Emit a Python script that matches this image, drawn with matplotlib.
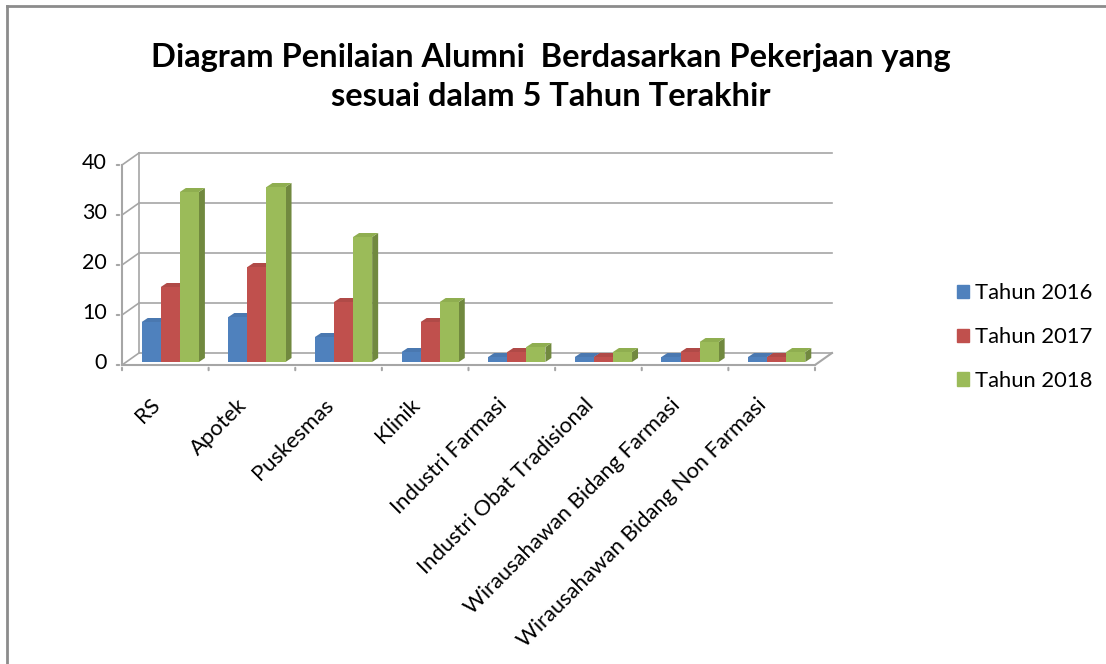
import matplotlib
matplotlib.use("Agg")
from matplotlib import pyplot as plt
from matplotlib.patches import Polygon, Patch
from matplotlib.lines import Line2D
import matplotlib.transforms as mtrans
import numpy as np

categories = ["RS", "Apotek", "Puskesmas", "Klinik", "Industri Farmasi",
              "Industri Obat Tradisional", "Wirausahawan Bidang Farmasi",
              "Wirausahawan Bidang Non Farmasi"]
series_names = ["Tahun 2016", "Tahun 2017", "Tahun 2018"]
tahun_2016 = [8, 9, 5, 2, 1, 1, 1, 1]
tahun_2017 = [15, 19, 12, 8, 2, 1, 2, 1]
tahun_2018 = [34, 35, 25, 12, 3, 2, 4, 2]
y_ticks = [0, 10, 20, 30, 40]

front_colors = ["#4F81BD", "#C0504D", "#9BBB59"]
top_colors = ["#4A78B0", "#B04A47", "#8FAE50"]
side_colors = ["#385D8A", "#8C3836", "#71893F"]

plt.rcParams["font.family"] = ["Lato", "DejaVu Sans"]

fig = plt.figure(figsize=(11.06, 6.64), dpi=100)
W, H = 1106, 664
ax = fig.add_axes([122 / W, (H - 365) / H, 693 / W, 200 / H])
ax.set_xlim(-0.5, len(categories) - 0.5)
ax.set_ylim(0, 40)
ax.axis("off")

grid_col = "#A6A6A6"
# depth of the back wall in pixels
wall = mtrans.ScaledTranslation(17 / 100, 12 / 100, fig.dpi_scale_trans)
back = ax.transData + wall
x0, x1 = ax.get_xlim()

# back wall gridlines + left wall diagonals
for v in y_ticks:
    ax.plot([x0, x1], [v, v], color=grid_col, lw=1.2, transform=back, clip_on=False)
    p_front = ax.transData.transform((x0, v))
    p_back = back.transform((x0, v))
    fig.add_artist(Line2D([p_front[0] / W, p_back[0] / W], [p_front[1] / H, p_back[1] / H],
                          color=grid_col, lw=1.2))
# back wall left edge
ax.plot([x0, x0], [0, 40], color=grid_col, lw=1.2, transform=back, clip_on=False)
# floor front edge and right edge
ax.plot([x0, x1], [0, 0], color=grid_col, lw=1.5, clip_on=False)
pf = ax.transData.transform((x1, 0))
pb = back.transform((x1, 0))
fig.add_artist(Line2D([pf[0] / W, pb[0] / W], [pf[1] / H, pb[1] / H], color=grid_col, lw=1.5))
# y axis
ax.plot([x0, x0], [0, 40], color=grid_col, lw=1.5, clip_on=False)
for v in y_ticks:
    ax.annotate("", xy=(x0, v), xytext=(-8, 0), textcoords="offset pixels",
                arrowprops=dict(arrowstyle="-", color=grid_col, lw=1.5))
    ax.annotate(str(v), xy=(x0, v), xytext=(-15, 2), textcoords="offset pixels",
                ha="right", va="center", fontsize=15.5)
# x ticks at category boundaries
for b in np.arange(x0, x1 + 0.01, 1.0):
    ax.annotate("", xy=(b, 0), xytext=(0, -8), textcoords="offset pixels",
                arrowprops=dict(arrowstyle="-", color=grid_col, lw=1.5))

# bars (pseudo 3D)
bar_w = 0.22
bar_shift = mtrans.ScaledTranslation(5 / 100, 3 / 100, fig.dpi_scale_trans)
bar_tr = ax.transData + bar_shift
ddx = 6 / 86.6
ddy = 4 / 5.0
x = np.arange(len(categories))
for i, vals in enumerate([tahun_2016, tahun_2017, tahun_2018]):
    xs = x + (i - 1) * bar_w
    for xi, v in zip(xs, vals):
        l, r = xi - bar_w / 2, xi + bar_w / 2
        ax.add_patch(Polygon([(r, 0), (r + ddx, ddy), (r + ddx, v + ddy), (r, v)],
                             closed=True, fc=side_colors[i], ec="none",
                             transform=bar_tr, clip_on=False, zorder=3 + i))
        ax.add_patch(Polygon([(l, v), (r, v), (r + ddx, v + ddy), (l + ddx, v + ddy)],
                             closed=True, fc=top_colors[i], ec="none",
                             transform=bar_tr, clip_on=False, zorder=3 + i))
    ax.bar(xs, vals, width=bar_w, color=front_colors[i], transform=bar_tr,
           clip_on=False, zorder=3 + i)

# category labels
for xi, name in zip(x, categories):
    ax.annotate(name, xy=(xi, 0), xytext=(-8, -37), textcoords="offset pixels",
                ha="right", va="center", rotation=45, rotation_mode="anchor",
                fontsize=15.8)

# title
fig.text(551 / W, 1 - 58 / H, "Diagram Penilaian Alumni  Berdasarkan Pekerjaan yang",
         ha="center", va="center", fontsize=23.5, fontweight="bold")
fig.text(551 / W, 1 - 97 / H, "sesuai dalam 5 Tahun Terakhir",
         ha="center", va="center", fontsize=23.5, fontweight="bold")

# legend
handles = [Patch(color=c) for c in front_colors]
fig.legend(handles, series_names, loc="center left",
           bbox_to_anchor=(937 / W, 1 - 337 / H), frameon=False, fontsize=15.8,
           handlelength=0.55, handleheight=0.55, handletextpad=0.3, labelspacing=1.08)

# outer border
fig.add_artist(Line2D([7 / W, 7 / W], [0, 1 - 6 / H], color="#8C8C8C", lw=2))
fig.add_artist(Line2D([7 / W, 1], [1 - 6 / H, 1 - 6 / H], color="#8C8C8C", lw=2))

fig.savefig("out.png", dpi=100)
